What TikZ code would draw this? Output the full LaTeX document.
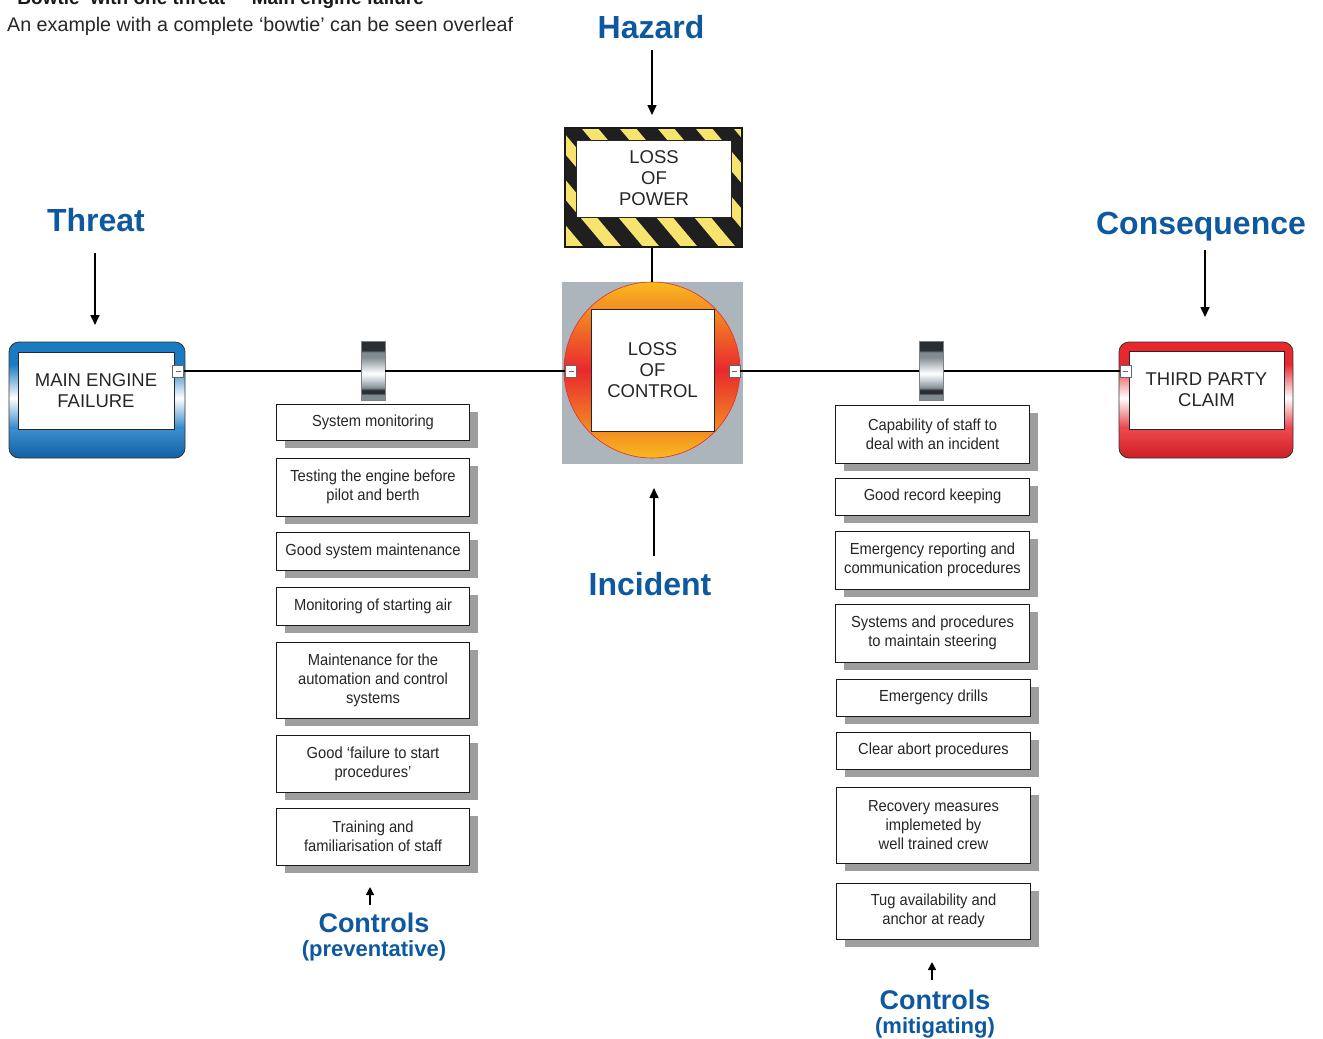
\documentclass[tikz,border=0pt]{standalone}
\usepackage{fontspec}
\setmainfont{Liberation Sans}
\newfontfamily\condfont[FakeStretch=0.92]{Liberation Sans}
\usetikzlibrary{arrows.meta,shadows}
\newcommand\myfs[2]{\fontsize{#1}{#2}\selectfont}
\definecolor{hblue}{RGB}{14,88,160}
\definecolor{tblue}{RGB}{26,122,194}
\definecolor{tbluedark}{RGB}{16,96,165}
\definecolor{cred}{RGB}{233,40,46}
\definecolor{creddark}{RGB}{205,30,36}
\definecolor{hyellow}{RGB}{246,228,110}
\definecolor{cgray}{RGB}{172,180,188}
\definecolor{corange}{RGB}{248,186,30}
\definecolor{shadowgray}{RGB}{158,158,158}
\definecolor{bargray}{RGB}{128,138,145}
\definecolor{bardark}{RGB}{40,46,50}
\definecolor{barlight}{RGB}{200,206,210}
\pgfdeclareverticalshading{barriershade}{100bp}{color(0bp)=(bargray); color(25bp)=(bargray); color(30bp)=(bargray); color(31bp)=(bardark); color(34bp)=(bardark); color(35.5bp)=(bargray); color(42bp)=(barlight); color(48bp)=(white); color(54bp)=(barlight); color(62bp)=(bargray); color(66bp)=(bargray); color(67.5bp)=(bardark); color(75bp)=(bardark); color(100bp)=(bardark)}
\begin{document}
\begin{tikzpicture}[x=1pt,y=-1pt,
 heading/.style={text=hblue, font=\bfseries\myfs{32}{36}, anchor=base, inner sep=0},
 ctrlhead/.style={text=hblue, font=\bfseries\myfs{27}{30}, anchor=base, inner sep=0},
 subheading/.style={text=hblue, font=\bfseries\myfs{22}{24}, anchor=base, inner sep=0},
 arr/.style={line width=1.6pt, -{Triangle[length=10pt,width=9pt]}},
 smallarr/.style={line width=1.6pt, -{Triangle[length=8pt,width=8pt]}},
 conn/.style={line width=1.4pt},
 mainbox/.style={draw=black!85, fill=white, line width=0.8pt, align=center, font=\myfs{18.5}{21}, text=black!85, inner sep=0},
 ctrl/.style={draw=black!90, fill=white, line width=0.9pt, align=center, font=\condfont\myfs{16}{19}, text=black!85, inner sep=0, drop shadow={shadow xshift=8pt, shadow yshift=-8pt, fill=shadowgray, opacity=1}},
 lctrl/.style={ctrl, minimum width=193},
 rctrl/.style={ctrl, minimum width=194},
 minus/.style={draw=black!60, fill=white, minimum width=11, minimum height=12, inner sep=0, line width=0.6pt,
   path picture={\draw[line width=0.8pt] ([xshift=-2.5pt]path picture bounding box.center) -- ([xshift=2.5pt]path picture bounding box.center);}},
 barrier/.style={draw=black!50, line width=0.5pt, shade, shading=barriershade, minimum width=24, minimum height=59, inner sep=0}
]
\path[use as bounding box] (0,0) rectangle (1323,1039);
\clip (0,0) rectangle (1323,1039);

% header texts
\node[anchor=base west, font=\bfseries\myfs{19}{22}, inner sep=0, text=black!90] (title) at (12,4) {‘Bowtie’ with one threat – ‘Main engine failure’};
\node[anchor=base west, font=\myfs{19.7}{22}, inner sep=0, text=black!85] (intro) at (7,31) {An example with a complete ‘bowtie’ can be seen overleaf};

% headings
\node[heading] (hazardlbl) at (651,38.5) {Hazard};
\node[heading] (threatlbl) at (96,231.5) {Threat};
\node[heading] (conslbl) at (1201,234.5) {Consequence};
\node[heading] (incidentlbl) at (650,595.5) {Incident};
\node[ctrlhead] (lctrllbl) at (374,932.7) {Controls};
\node[subheading] (lctrlsub) at (374,956.6) {(preventative)};
\node[ctrlhead] (rctrllbl) at (935,1009.7) {Controls};
\node[subheading] (rctrlsub) at (935,1033.6) {(mitigating)};

% hazard box
\begin{scope}
\clip (565,128) rectangle (742,247);
\fill[hyellow] (565,128) rectangle (742,247);
\foreach \i in {-5,...,6} \fill[black!88] ({560+\i*38},128) -- ++(21,0) -- ++(100,119) -- ++(-21,0) -- cycle;
\end{scope}
\node[draw=black!90, line width=1.2pt, minimum width=177, minimum height=119, inner sep=0] (hazardbox) at (653.5,187.5) {};
\node[mainbox, minimum width=155, minimum height=77] (hazard) at (654,178.5) {LOSS\\OF\\POWER};

% central event
\node[fill=cgray, minimum width=181, minimum height=182, inner sep=0] (centreback) at (652.5,373) {};
\shade[top color=corange, bottom color=corange, middle color=cred, draw=cred, line width=0.6pt] (652,370) circle (88);
\node[mainbox, minimum width=123, minimum height=122] (event) at (652.5,370) {LOSS\\OF\\CONTROL};
\node[minus] (lminus) at (571,371) {};
\node[minus] (rminus) at (734.5,371) {};

% threat box
\begin{scope}
\clip[rounded corners=10] (9,342) rectangle (185,458);
\fill[tblue] (9,342) rectangle (185,458);
\shade[top color=tblue, bottom color=tblue, middle color=white] (9,364) rectangle (185,432);
\shade[top color=tblue!85!white, bottom color=tbluedark] (9,429) rectangle (185,458);
\end{scope}
\draw[rounded corners=10, line width=0.8pt, black!80] (9,342) rectangle (185,458);
\node[mainbox, minimum width=156, minimum height=77] (threat) at (96,390.5) {MAIN ENGINE\\FAILURE};
\node[minus] (tminus) at (178,371) {};

% consequence box
\begin{scope}
\clip[rounded corners=10] (1119,342) rectangle (1293,458);
\fill[cred] (1119,342) rectangle (1293,458);
\shade[top color=cred, bottom color=cred, middle color=white] (1119,364) rectangle (1293,432);
\shade[top color=cred!85!white, bottom color=creddark] (1119,429) rectangle (1293,458);
\end{scope}
\draw[rounded corners=10, line width=0.8pt, black!80] (1119,342) rectangle (1293,458);
\node[mainbox, minimum width=155, minimum height=78] (cons) at (1206.5,390) {THIRD PARTY\\CLAIM};
\node[minus] (cminus) at (1125.5,371) {};

% barriers
\node[barrier] (b1) at (373,371) {};
\node[barrier] (b2) at (931.5,371) {};

% connectors
\draw[conn] (tminus.east) -- (b1.west);
\draw[conn] (b1.east) -- (lminus.west);
\draw[conn] (rminus.east) -- (b2.west);
\draw[conn] (b2.east) -- (cminus.west);
\draw[conn] ([xshift=-1.5pt]hazardbox.south) -- ([xshift=-1.5pt]hazardbox.south |- centreback.north);

% arrows
\coordinate (hA) at (652,50); \coordinate (hB) at (652,115);
\draw[arr] (hA) -- (hB);
\coordinate (tA) at (95,253); \coordinate (tB) at (95,325);
\draw[arr] (tA) -- (tB);
\coordinate (cA) at (1205,250); \coordinate (cB) at (1205,317);
\draw[arr] (cA) -- (cB);
\coordinate (iA) at (654,556); \coordinate (iB) at (654,488);
\draw[arr] (iA) -- (iB);
\coordinate (lcA) at (370,905); \coordinate (lcB) at (370,887);
\draw[smallarr] (lcA) -- (lcB);
\coordinate (rcA) at (932,980); \coordinate (rcB) at (932,962);
\draw[smallarr] (rcA) -- (rcB);

% preventative controls
\node[lctrl, minimum height=36] (p1) at (373,422) {System monitoring};
\node[lctrl, minimum height=58] (p2) at (373,487) {Testing the engine before\\pilot and berth};
\node[lctrl, minimum height=38] (p3) at (373,551) {Good system maintenance};
\node[lctrl, minimum height=38] (p4) at (373,606) {Monitoring of starting air};
\node[lctrl, minimum height=76] (p5) at (373,680) {Maintenance for the\\automation and control\\systems};
\node[lctrl, minimum height=57] (p6) at (373,763.5) {Good ‘failure to start\\procedures’};
\node[lctrl, minimum height=57] (p7) at (373,836.5) {Training and\\familiarisation of staff};

% mitigating controls
\node[rctrl, minimum height=58] (m1) at (932.5,434) {Capability of staff to\\deal with an incident};
\node[rctrl, minimum height=37] (m2) at (932.5,496.5) {Good record keeping};
\node[rctrl, minimum height=58] (m3) at (932.5,560) {Emergency reporting and\\communication procedures};
\node[rctrl, minimum height=58] (m4) at (932.5,633) {Systems and procedures\\to maintain steering};
\node[rctrl, minimum height=37] (m5) at (933.5,697.5) {Emergency drills};
\node[rctrl, minimum height=37] (m6) at (933.5,750.5) {Clear abort procedures};
\node[rctrl, minimum height=76] (m7) at (933.5,825) {Recovery measures\\implemeted by\\well trained crew};
\node[rctrl, minimum height=56] (m8) at (933.5,911) {Tug availability and\\anchor at ready};
\end{tikzpicture}
\end{document}
